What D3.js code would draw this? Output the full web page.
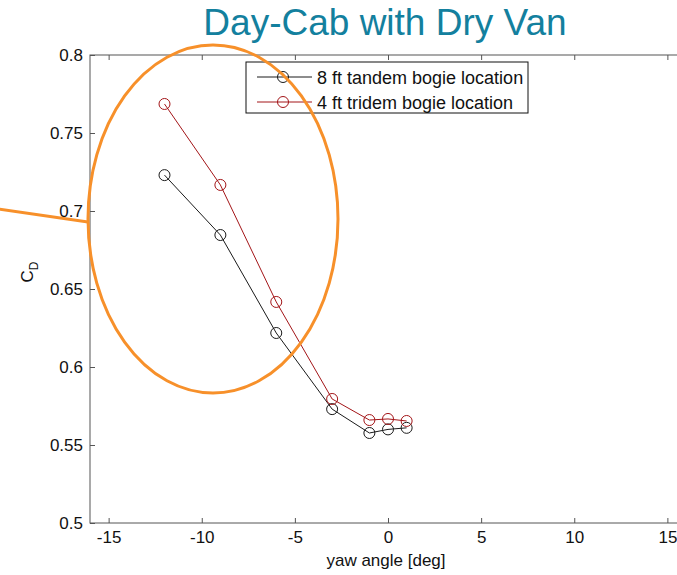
<!DOCTYPE html>
<html>
<head>
<meta charset="utf-8">
<script src="https://cdn.jsdelivr.net/npm/d3@7"></script>
<style>
  html, body { margin: 0; padding: 0; background: #fff; overflow: hidden; }
  svg { display: block; font-family: "Liberation Sans", Arial, sans-serif; }
</style>
</head>
<body>
<svg id="chart" width="677" height="575"></svg>
<script>
// Yaw angle sweep (deg)
const yawAngles = [-12, -9, -6, -3, -1, 0, 1];
// Drag coefficient for each bogie configuration
const tandem8ft = [0.723, 0.6846, 0.6218, 0.573, 0.5577, 0.560, 0.561];
const tridem4ft = [0.7686, 0.7167, 0.6417, 0.5795, 0.566, 0.5667, 0.5654];
const seriesNames = ["8 ft tandem bogie location", "4 ft tridem bogie location"];
const xTicks = [-15, -10, -5, 0, 5, 10, 15];
const yTicks = [0.5, 0.55, 0.6, 0.65, 0.7, 0.75, 0.8];

const svg = d3.select("#chart");
const plotL = 90, plotT = 55, plotR = 686, plotB = 523;

const x = d3.scaleLinear().domain([-16, 16]).range([plotL, plotR]);
const y = d3.scaleLinear().domain([0.5, 0.8]).range([plotB, plotT]);

// Frame
const axisColor = "#555";
svg.append("rect")
  .attr("x", plotL).attr("y", plotT)
  .attr("width", plotR - plotL).attr("height", plotB - plotT)
  .attr("fill", "none").attr("stroke", axisColor).attr("stroke-width", 1);

// Inward-pointing ticks, MATLAB style
const xAxisB = d3.axisBottom(x).tickValues(xTicks).tickSizeInner(-5).tickSizeOuter(0).tickPadding(8).tickFormat(d3.format("d"));
const gx = svg.append("g").attr("transform", `translate(0,${plotB})`).call(xAxisB);
gx.select(".domain").remove();
gx.selectAll("line").attr("stroke", axisColor);
gx.selectAll("text").attr("font-size", 17).attr("fill", "#111")
  .text(d => d < 0 ? "-" + Math.abs(d) : d);

const xAxisT = d3.axisTop(x).tickValues(xTicks).tickSizeInner(-5).tickSizeOuter(0).tickFormat("");
const gxt = svg.append("g").attr("transform", `translate(0,${plotT})`).call(xAxisT);
gxt.select(".domain").remove();
gxt.selectAll("line").attr("stroke", axisColor);

const yAxisL = d3.axisLeft(y).tickValues(yTicks).tickSizeInner(-5).tickSizeOuter(0).tickPadding(7).tickFormat(d => String(+d.toFixed(2)));
const gy = svg.append("g").attr("transform", `translate(${plotL},0)`).call(yAxisL);
gy.select(".domain").remove();
gy.selectAll("line").attr("stroke", axisColor);
gy.selectAll("text").attr("font-size", 17).attr("fill", "#111");

// Axis titles
svg.append("text")
  .attr("x", 386).attr("y", 566)
  .attr("text-anchor", "middle").attr("font-size", 17).attr("fill", "#111")
  .text("yaw angle [deg]");

const yl = svg.append("text")
  .attr("transform", `translate(33,272) rotate(-90)`)
  .attr("text-anchor", "middle").attr("font-size", 17).attr("fill", "#111");
yl.append("tspan").text("C");
yl.append("tspan").attr("font-size", 12).attr("dy", 5).text("D");

// Title
svg.append("text")
  .attr("x", 385).attr("y", 35)
  .attr("text-anchor", "middle").attr("font-size", 37).attr("fill", "#13809e")
  .text("Day-Cab with Dry Van");

// Data series
const series = [
  { name: seriesNames[0], values: tandem8ft, color: "#1a1a1a" },
  { name: seriesNames[1], values: tridem4ft, color: "#a31518" }
];
const line = d3.line().x((d, i) => x(yawAngles[i])).y(d => y(d));

series.forEach(s => {
  svg.append("path").datum(s.values)
    .attr("d", line).attr("fill", "none")
    .attr("stroke", s.color).attr("stroke-width", 1);
  svg.selectAll(null).data(s.values).enter().append("circle")
    .attr("cx", (d, i) => x(yawAngles[i])).attr("cy", d => y(d))
    .attr("r", 5.5).attr("fill", "none")
    .attr("stroke", s.color).attr("stroke-width", 1);
});

// Legend
const lg = svg.append("g");
lg.append("rect").attr("x", 246).attr("y", 62).attr("width", 282).attr("height", 51)
  .attr("fill", "#fff").attr("stroke", "#111").attr("stroke-width", 1);
series.forEach((s, i) => {
  const ly = 77 + i * 25;
  lg.append("line").attr("x1", 257).attr("x2", 312).attr("y1", ly).attr("y2", ly)
    .attr("stroke", s.color).attr("stroke-width", 1);
  lg.append("circle").attr("cx", 283).attr("cy", ly).attr("r", 5.5)
    .attr("fill", "none").attr("stroke", s.color).attr("stroke-width", 1);
  lg.append("text").attr("x", 317).attr("y", ly + 6.5)
    .attr("font-size", 18).attr("fill", "#111").text(s.name);
});

// Highlight callout
const orange = "#f7902a";
svg.append("ellipse")
  .attr("cx", 213).attr("cy", 219).attr("rx", 125).attr("ry", 174)
  .attr("fill", "none").attr("stroke", orange).attr("stroke-width", 3);
svg.append("line")
  .attr("x1", -2).attr("y1", 209).attr("x2", 88).attr("y2", 222)
  .attr("stroke", orange).attr("stroke-width", 3);
</script>
</body>
</html>
